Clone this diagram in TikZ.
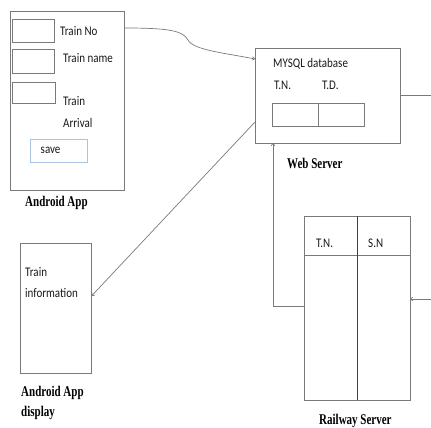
\documentclass[tikz,border=0pt]{standalone}
\usepackage{fontspec}
\usepackage{graphicx}
\setmainfont{Liberation Serif}
\newfontfamily\carlitofont{Carlito}
\usetikzlibrary{arrows.meta}
\definecolor{ln}{HTML}{7A7A7A}
\definecolor{sv}{HTML}{A9C4E0}
\newcommand\tallsans[1]{\scalebox{1}[1.2]{#1}}
\newcommand\tallserif[1]{\scalebox{1}[1.35]{#1}}
\tikzset{
  box/.style={draw=ln, line width=0.8pt},
  lbl/.style={anchor=base west, inner sep=0pt, font=\carlitofont\fontsize{11}{13}\selectfont, text=black!90},
  ttl/.style={anchor=base west, inner sep=0pt, font=\bfseries\fontsize{11}{13}\selectfont},
  conn/.style={draw=ln, line width=0.7pt},
  arr/.style={conn, -{To[length=3pt,width=4pt]}}
}
\begin{document}
\begin{tikzpicture}[x=1pt,y=-1pt]
\useasboundingbox (0,0) rectangle (431,428);
% Android App
\node[box, minimum width=114pt, minimum height=179pt, anchor=north west, inner sep=0pt] (app) at (10,11) {};
\node[box, minimum width=42pt, minimum height=23pt, anchor=north west, inner sep=0pt] (b1) at (12,19) {};
\node[box, minimum width=42pt, minimum height=24pt, anchor=north west, inner sep=0pt] (b2) at (12,49) {};
\node[box, minimum width=43pt, minimum height=21pt, anchor=north west, inner sep=0pt] (b3) at (12,82) {};
\node[lbl] (t1) at (60,36) {\tallsans{Train No}};
\node[lbl] (t2) at (63,62.5) {\tallsans{Train name}};
\node[lbl] (t3) at (63,106) {\tallsans{Train}};
\node[lbl] (t4) at (63,127) {\tallsans{Arrival}};
\node[draw=sv, line width=0.8pt, minimum width=57pt, minimum height=23pt, anchor=north west, inner sep=0pt] (save) at (30,139) {};
\node[lbl] (st) at (40.5,153.5) {\tallsans{save}};
\node[ttl] (appc) at (25,206) {\tallserif{Android App}};
% Web Server
\node[box, minimum width=145pt, minimum height=95pt, anchor=north west, inner sep=0pt] (web) at (255,48) {};
\node[lbl] (my) at (273,67) {\tallsans{MYSQL database}};
\node[lbl] (tn) at (274,89) {\tallsans{T.N.}};
\node[lbl] (td) at (322,89) {\tallsans{T.D.}};
\node[box, minimum width=46pt, minimum height=23pt, anchor=north west, inner sep=0pt] (c1) at (272,103) {};
\node[box, minimum width=46pt, minimum height=23pt, anchor=north west, inner sep=0pt] (c2) at (318,103) {};
\node[ttl] (webc) at (287,168) {\tallserif{Web Server}};
% Android App display
\node[box, minimum width=71pt, minimum height=130pt, anchor=north west, inner sep=0pt] (disp) at (20,243) {};
\node[lbl] (d1) at (25,276) {\tallsans{Train}};
\node[lbl] (d2) at (25,297) {\tallsans{information}};
\node[ttl] (dc1) at (21,396) {\tallserif{Android App}};
\node[ttl] (dc2) at (21,416) {\tallserif{display}};
% Railway Server
\node[box, minimum width=106pt, minimum height=184pt, anchor=north west, inner sep=0pt] (rail) at (304,216) {};
\draw[box] (rail.north west) ++(0,39) coordinate (hl) -- (hl -| rail.east);
\draw[draw=black!75, line width=0.8pt] (357,216) coordinate (dv1) -- (357,400) coordinate (dv2);
\node[lbl] (rn) at (316,247) {\tallsans{T.N.}};
\node[lbl] (rs) at (368,247) {\tallsans{S.N}};
\node[ttl] (railc) at (319,424) {\tallserif{Railway Server}};
% connectors
\coordinate (ce) at (124,28);
\coordinate (cw) at (255,59);
\draw[arr] (ce) .. controls (165,28) and (183,30) .. (188,40) .. controls (193,50) and (225,53) .. (cw);
\coordinate (dg) at (255,122);
\coordinate (dd) at (91.5,296);
\draw[arr] (dg) -- (dd);
\coordinate (wr) at (400,95);
\coordinate (wr2) at (431,95);
\draw[conn] (wr) -- (wr2);
\coordinate (rl) at (304,306);
\coordinate (bend) at (273,306);
\coordinate (wb) at (273,143);
\draw[arr] (rl) -- (bend) -- (wb);
\coordinate (rr) at (431,299);
\coordinate (re) at (410,299);
\draw[arr] (rr) -- (re);
\end{tikzpicture}
\end{document}
